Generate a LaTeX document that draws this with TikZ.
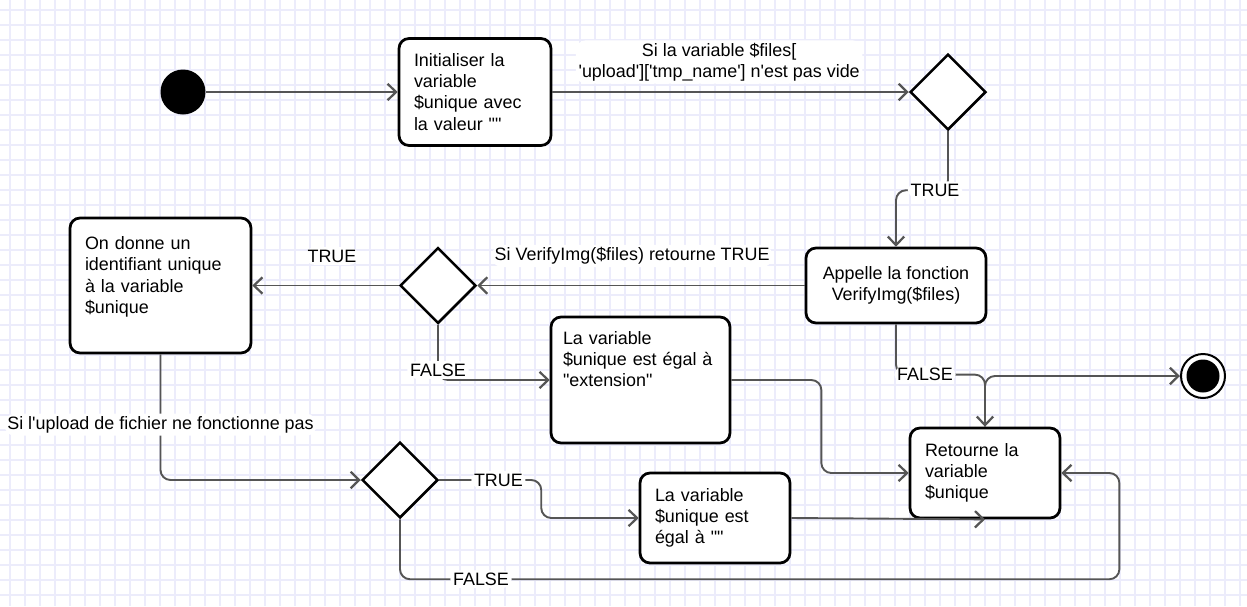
\documentclass[tikz,border=0pt]{standalone}
\usepackage{fontspec}
\setmainfont{Liberation Sans}[Ligatures=TeXOff]
\usepackage{tikz}
\usetikzlibrary{positioning,arrows.meta,calc,shapes.geometric}
\definecolor{gridlav}{HTML}{ECECFB}
\definecolor{flowgray}{HTML}{555555}

\begin{document}
\begin{tikzpicture}[x=0.02cm,y=-0.02cm,font=\fontsize{10.2}{12}\selectfont,>={Straight Barb[length=1.7mm,width=3.3mm,line width=0.45mm]}]
  \tikzstyle{act}=[draw,line width=0.55mm,rounded corners=2mm,fill=white,align=left]
  \tikzstyle{dec}=[draw,diamond,line width=0.5mm,fill=white,minimum width=1.52cm,minimum height=1.52cm,inner sep=0pt]
  \tikzstyle{lbl}=[fill=white,inner sep=1.5pt,align=center]
  \tikzstyle{flow}=[->,draw=flowgray,line width=0.38mm,rounded corners=2mm]
  % background grid
  \fill[white] (0,0) rectangle (1247,606);
  \useasboundingbox (0,0) rectangle (1247,606);
  \foreach \gx in {10,25,...,1240} \draw[gridlav,line width=0.22mm] (\gx,0) -- (\gx,606);
  \foreach \gy in {10,25,...,595} \draw[gridlav,line width=0.22mm] (0,\gy) -- (1247,\gy);
  % start and end
  \node[circle,fill=black,minimum size=0.9cm,inner sep=0pt] (start) at (183,92) {};
  \node[circle,draw,line width=0.4mm,fill=white,minimum size=0.88cm,inner sep=0pt,
    path picture={\fill[black] (path picture bounding box.center) circle (0.33cm);}] (stop) at (1203,376) {};
  % activities
  \node[act,minimum width=3.04cm,minimum height=2.14cm,text width=2.44cm] (init) at (475,92)
    {Initialiser la\\variable\\\$unique avec\\la valeur ""};
  \node[act,minimum width=3.6cm,minimum height=1.5cm,align=center] (verify) at (896,285.5)
    {Appelle la fonction\\VerifyImg(\$files)};
  \node[act,minimum width=3.62cm,minimum height=2.7cm,text width=3.02cm] (give) at (160.5,285.5)
    {On donne un\\identifiant unique\\à la variable\\\$unique\\~};
  \node[act,minimum width=3.58cm,minimum height=2.52cm,text width=3.1cm] (ext) at (640.5,380)
    {La variable\\\$unique est égal à\\"extension"\\~\\~};
  \node[act,minimum width=3cm,minimum height=1.8cm,text width=2.4cm] (ret) at (985,473)
    {Retourne la\\variable\\\$unique};
  \node[act,minimum width=3cm,minimum height=1.8cm,text width=2.4cm] (blank) at (715,518)
    {La variable\\\$unique est\\égal à ""};
  % decisions
  \node[dec] (d1) at (948,92) {};
  \node[dec] (d2) at (438,285.5) {};
  \node[dec] (d3) at (400,480) {};
  % flows
  \draw[flow] (start) -- (init);
  \draw[flow] (init) -- (d1) node[lbl,pos=0.468,yshift=6mm]{Si la variable \$files[\\'upload']['tmp\_name'] n'est pas vide};
  \draw[flow] (d1.south) -- ++(0,59) node[lbl,xshift=-0.26cm]{TRUE} -| (verify.north);
  \draw[flow] (verify) -- (d2) node[lbl,pos=0.527,yshift=5.9mm]{Si VerifyImg(\$files) retourne TRUE};
  \draw[flow] (d2) -- (give) node[lbl,pos=0.456,yshift=5.9mm]{TRUE};
  \draw[flow] (d2.south) |- (ext.west) node[lbl,pos=0.5,yshift=2mm]{FALSE};
  \draw[flow] (ext.east) -- ++(90,0) |- (ret.west);
  \coordinate (join) at ($(ret.north)+(0,-52)$);
  \draw[flow] (verify.south) |- (join) node[lbl,pos=0.5,xshift=5.8mm]{FALSE} -- (ret.north);
  \draw[flow] (ret.north) |- (stop.west);
  \draw[flow] (give.south) |- (d3.west) node[lbl,pos=0.28]{Si l'upload de fichier ne fonctionne pas};
  \draw[flow] (d3.east) -- node[lbl,pos=0.58]{TRUE} ++(102,0) |- (blank.west);
  \draw[flow] (blank.east) -- (ret.south);
  \draw[flow] (d3.south) -- ++(0,60) node[lbl,xshift=1.62cm]{FALSE} -| ($(ret.east)+(58,0)$) -- (ret.east);
\end{tikzpicture}
\end{document}
